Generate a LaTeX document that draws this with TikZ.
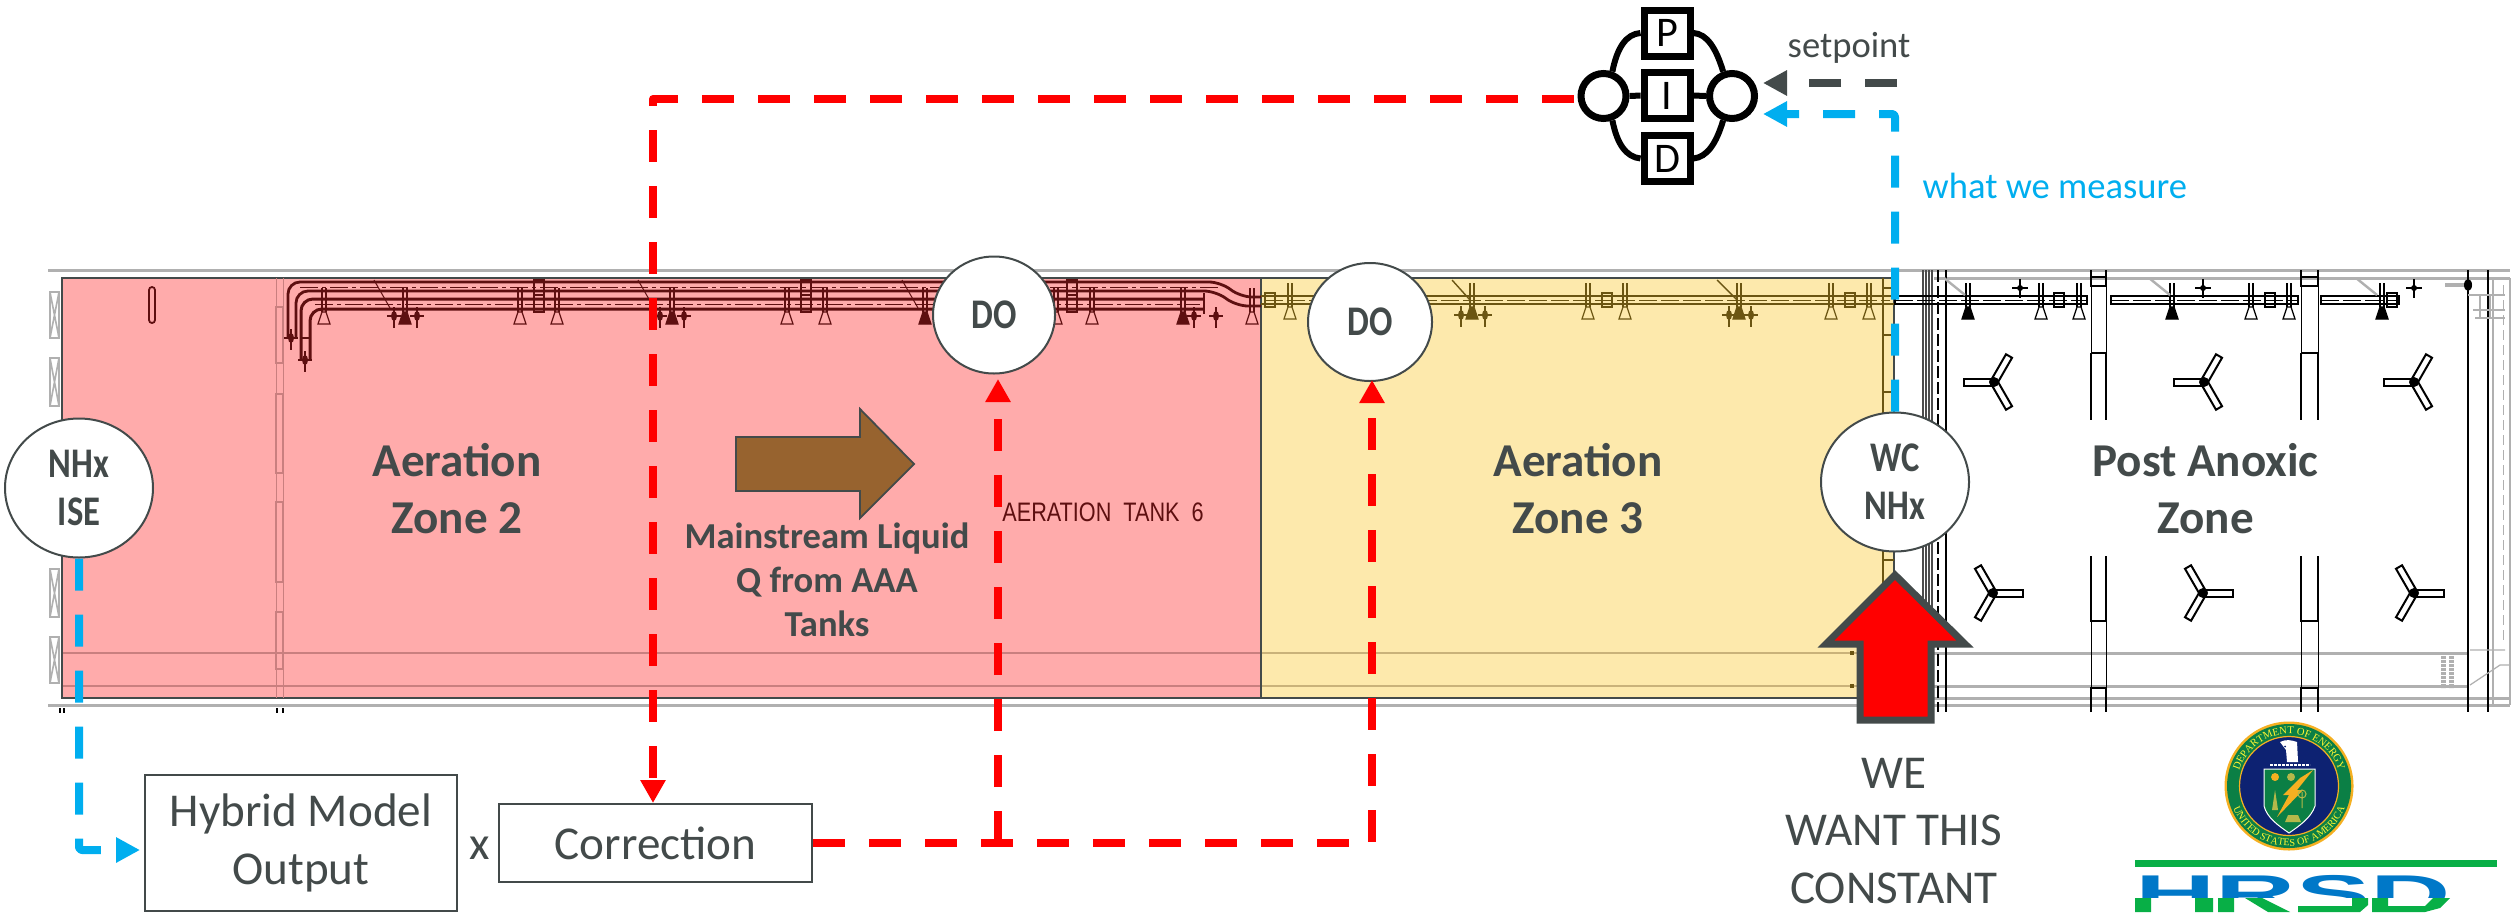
\documentclass[tikz,border=0pt]{standalone}
\usepackage{fontspec}
\setmainfont{Carlito}
\newfontfamily\cadfont{Liberation Sans}
\newfontfamily\sealfont{Liberation Serif}
\usetikzlibrary{arrows.meta,shapes.geometric,decorations.text}
\def\pxu{0.01cm}
\definecolor{txtgray}{HTML}{434A4A}
\definecolor{zonepink}{HTML}{FFABAB}
\definecolor{zoneyellow}{HTML}{FDE9AC}
\definecolor{pipea}{HTML}{5E0F10}
\definecolor{pipeb}{HTML}{6B5512}
\definecolor{redline}{HTML}{FF0000}
\definecolor{blueline}{HTML}{00AEEF}
\definecolor{brownarrow}{HTML}{97632F}
\definecolor{hsp}{HTML}{C97F7F}
\definecolor{hsy}{HTML}{C9B27A}
\definecolor{gridgray}{HTML}{B0B0B0}
\definecolor{hrsdblue}{HTML}{0078C8}
\definecolor{hrsdgreen}{HTML}{08AF46}
\definecolor{sealgold}{HTML}{F5B021}
\definecolor{sealgreen}{HTML}{0B7F45}
\definecolor{sealnavy}{HTML}{0D2272}
\definecolor{sealpale}{HTML}{B5B84A}
\tikzset{
  dashline/.style={line width=8*\pxu,dash pattern=on 32*\pxu off 24*\pxu,line join=round},
  redconn/.style={dashline,draw=redline,-{Triangle[length=23*\pxu,width=24*\pxu]}},
  blueconn/.style={dashline,draw=blueline,-{Triangle[length=24*\pxu,width=24*\pxu]}},
  grayconn/.style={dashline,draw=txtgray,-{Triangle[length=24*\pxu,width=24*\pxu]}},
  sensor/.style={ellipse,draw=txtgray,line width=2*\pxu,fill=white,inner sep=0pt,align=center,text=txtgray,
     font=\fontsize{12}{13.6}\selectfont\bfseries},
  zonetxt/.style={align=center,text=txtgray,font=\fontsize{13.4}{16.2}\selectfont\bfseries,inner sep=0pt},
  plaintxt/.style={align=center,text=txtgray,font=\fontsize{13.4}{16.4}\selectfont,inner sep=0pt},
  blocktxt/.style={draw=txtgray,line width=2.2*\pxu,fill=white,align=center,text=txtgray,
     font=\fontsize{13.4}{16.4}\selectfont,inner sep=0pt},
  smalltxt/.style={text=#1,font=\fontsize{10.4}{12}\selectfont,inner sep=0pt},
  pidbox/.style={draw=black,line width=7*\pxu,fill=white,minimum size=46*\pxu,inner sep=0pt,
     font=\fontsize{12}{12}\selectfont},
  pidcirc/.style={circle,draw=black,line width=7*\pxu,fill=white,minimum size=45*\pxu,inner sep=0pt},
  pidline/.style={draw=black,line width=6*\pxu},
  wp/.style={draw=pipea,line width=1.6*\pxu},
  wb/.style={draw=pipeb,line width=1.6*\pxu},
  wk/.style={draw=black,line width=1.6*\pxu},
  wall/.style={draw=black,line width=2.2*\pxu},
  graybar/.style={draw=gridgray,line width=3*\pxu},
}
\newcommand{\narrowtxt}[1]{\scalebox{0.82}[1]{#1}}
\newcommand{\diffuser}[4]{% x, top y, colour, fill
  \draw[draw=#3,line width=1.2*\pxu,fill=#4] (#1-2,#2) -- (#1+2,#2) -- (#1+6,#2+12) -- (#1-6,#2+12) -- cycle;
  \draw[draw=#3,line width=1.1*\pxu] (#1-2,#2) -- (#1-2,#2-24) (#1+2,#2) -- (#1+2,#2-24);}
\newcommand{\flange}[3]{% x, y, colour
  \draw[draw=#3,line width=2*\pxu] (#1-5,#2-7) rectangle (#1+5,#2+7);}
\newcommand{\valve}[3]{% x, y, colour
  \fill[#3] (#1,#2) circle[x radius=3,y radius=5];
  \draw[draw=#3,line width=1.2*\pxu] (#1-7,#2) -- (#1+7,#2) (#1,#2-9) -- (#1,#2+12);}
\begin{document}
\begin{tikzpicture}[x=0.01cm,y=-0.01cm]
\useasboundingbox (0,0) rectangle (2516,912);
\fill[white] (0,0) rectangle (2516,912);

% ---- tank outline behind zones
\draw[graybar] (48,270) -- (2510,270);
\draw[graybar] (48,705) -- (2510,705);
\draw[graybar] (1934,278) -- (2510,278) (1934,653) -- (2468,653) (1934,686) -- (2468,686) (1934,698) -- (2510,698);

% ---- zones
\fill[zonepink] (62,278) rectangle (1261,698);
\fill[zoneyellow] (1261,278) rectangle (1894,698);
\draw[draw=hsp,line width=2*\pxu] (62,653) -- (1261,653) (62,686) -- (1261,686);
\draw[draw=hsy,line width=2*\pxu] (1261,653) -- (1894,653) (1261,686) -- (1894,686);
\draw[draw=txtgray,line width=2.4*\pxu] (62,698) -- (62,278) -- (1894,278) -- (1894,698) -- cycle;
\draw[draw=txtgray,line width=2.4*\pxu] (1261,278) -- (1261,698);

% ---- left wall boxes
\foreach \a/\b in {292/338,358/406,569/617,637/683}{
  \draw[draw=gridgray,line width=1.6*\pxu] (50,\a) rectangle (59,\b) (50,\a) -- (59,\b) (59,\a) -- (50,\b);}
\foreach \a/\b in {307/363,394/473,502/582,612/669}{
  \draw[draw=hsp,line width=1.2*\pxu] (276,\a) rectangle (283,\b);}
\draw[draw=hsp,line width=1*\pxu] (276,278) -- (276,698) (283,278) -- (283,698);
\draw[draw=black,line width=1.4*\pxu] (60,708) -- (60,713) (64,708) -- (64,713) (277,708) -- (277,713) (283,708) -- (283,713);
\draw[draw=pipea,line width=1.8*\pxu,rounded corners=3*\pxu] (149,287) rectangle (155,323);

% ---- aeration pipes zone 2
\begin{scope}[rounded corners=12*\pxu]
\draw[wp,line width=2.8*\pxu] (288,338) -- (288,282) -- (1221,282) -- (1240,297) -- (1261,297);
\draw[wp,line width=2.8*\pxu] (296,338) -- (296,291) -- (1216,291) -- (1236,306) -- (1261,306);
\draw[wp,line width=3*\pxu] (301,360) -- (301,299) -- (1204,299);
\draw[wp,line width=3*\pxu] (310,360) -- (310,309) -- (1204,309);
\end{scope}
\draw[wp,line width=1*\pxu,dash pattern=on 18*\pxu off 4*\pxu on 4*\pxu off 4*\pxu] (300,287) -- (1220,287) (315,304) -- (1200,304);
\draw[wp,line width=2.4*\pxu] (1204,293) -- (1204,314);
\valve{291}{338}{pipea}\valve{305}{360}{pipea}
\draw[draw=pipea,line width=1.4*\pxu] (300,338) -- (310,338);
\foreach \x in {324,520,557,787,825,1056,1092,1252}{\diffuser{\x}{312}{pipea}{zonepink}}
\foreach \x in {405,672,925,1183}{\diffuser{\x}{312}{pipea}{pipea}}
\foreach \x in {539,806,1072}{
  \draw[draw=pipea,line width=2.4*\pxu] (\x-5,280) rectangle (\x+5,312);
  \draw[draw=pipea,line width=1.6*\pxu] (\x-5,295) -- (\x+5,295);}
\foreach \x in {394,417,660,684,1194,1216}{\valve{\x}{316}{pipea}}
\foreach \x in {382,646,910}{\draw[draw=pipea,line width=1*\pxu] (\x-8,280) -- (\x+8,308);}

% ---- aeration pipe zone 3
\draw[wb,line width=2.8*\pxu] (1261,296) -- (1894,296) (1261,304) -- (1894,304);
\draw[wb,line width=1*\pxu,dash pattern=on 18*\pxu off 4*\pxu] (1265,300) -- (1890,300);
\foreach \x in {1290,1588,1625,1831,1869}{\diffuser{\x}{307}{pipeb}{zoneyellow}}
\foreach \x in {1472,1739}{\diffuser{\x}{307}{pipeb}{pipeb}}
\foreach \x in {1270,1607,1850}{\flange{\x}{300}{pipeb}}
\foreach \x in {1461,1485,1729,1751}{\valve{\x}{315}{pipeb}}
\draw[draw=pipeb,line width=1.4*\pxu] (1452,280) -- (1470,300) (1717,280) -- (1737,300);
\draw[draw=pipeb,line width=1.6*\pxu] (1883,278) -- (1883,650);
\foreach \y in {288,335,392,450,560,620}{\draw[draw=pipeb,line width=1.2*\pxu] (1883,\y) -- (1894,\y);}
\foreach \y in {653,686}{\fill[pipeb] (1850,\y-2) rectangle (1854,\y+2);}

% ---- partition wall
\foreach \x in {1923,1926,1929,1932}{\draw[draw=black!70,line width=1.2*\pxu] (\x,270) -- (\x,650);}
\draw[draw=black,line width=1.2*\pxu,dash pattern=on 12*\pxu off 4*\pxu] (1938,270) -- (1938,712);
\draw[draw=black,line width=1.4*\pxu] (1946,270) -- (1946,712);

% ---- post anoxic plan
\foreach \a/\b in {1895/2087,2111/2298,2321/2399}{
  \draw[wk,line width=2.2*\pxu] (\a,296) rectangle (\b,304);
  \draw[draw=black,line width=1*\pxu,dash pattern=on 18*\pxu off 4*\pxu] (\a,300) -- (\b,300);}
\foreach \x in {2041,2079,2251,2289}{\diffuser{\x}{307}{black}{white}}
\foreach \x in {1968,2172,2382}{\diffuser{\x}{307}{black}{black}}
\foreach \x in {2059,2270,2392}{\flange{\x}{300}{black}}
\foreach \x in {2020,2203,2414}{
  \fill (\x,288) circle[radius=3];
  \draw[draw=black,line width=1.1*\pxu] (\x-8,288) -- (\x+8,288) (\x,279) -- (\x,298);}
\foreach \x in {1944,2149,2356}{\draw[draw=gridgray,line width=2.4*\pxu] (\x,278) -- (\x+21,295);}
\foreach \l/\r in {2091/2106,2301/2318}{
  \draw[wall] (\l,270) -- (\l,286) -- (\r,286) -- (\r,270);
  \draw[wall] (\l,277) -- (\r,277);
  \draw[draw=black,line width=1*\pxu] (\l,286) -- (\l,353) (\r,286) -- (\r,353);
  \draw[wall] (\l,353) -- (\r,353);
  \draw[wall] (\l,353) -- (\l,420) (\r,353) -- (\r,420);
  \draw[wall] (\l,556) -- (\l,621) -- (\r,621) -- (\r,556);
  \draw[draw=black,line width=1*\pxu] (\l,621) -- (\l,688) (\r,621) -- (\r,688);
  \draw[wall] (\l,712) -- (\l,688) -- (\r,688) -- (\r,712);}
\foreach \x in {1994,2204,2414}{
  \foreach \r in {180,60,-60}{
    \draw[wk,line width=2*\pxu,fill=white,shift={(\x,382)},rotate=\r] (0,-3.5) rectangle (30,3.5);}
  \fill (\x,382) circle[radius=5];}
\foreach \x in {1993,2203,2414}{
  \foreach \r in {0,120,-120}{
    \draw[wk,line width=2*\pxu,fill=white,shift={(\x,593)},rotate=\r] (0,-3.5) rectangle (30,3.5);}
  \fill (\x,593) circle[radius=5];}
\draw[draw=black,line width=2.6*\pxu] (2468,270) -- (2468,712);
\draw[draw=black,line width=1.4*\pxu] (2488,270) -- (2488,712);
\draw[draw=gridgray,line width=1.2*\pxu] (2493,278) -- (2493,705) (2510,278) -- (2510,705);
\draw[draw=gridgray,line width=1*\pxu,dash pattern=on 10*\pxu off 5*\pxu] (2503,285) -- (2503,640);
\draw[draw=gridgray,line width=4*\pxu] (2445,285) -- (2468,285);
\fill[black] (2468,285) circle[x radius=4,y radius=6];
\draw[draw=gridgray,line width=1.2*\pxu] (2468,295) -- (2505,295) (2473,310) -- (2505,310) (2480,295) -- (2480,318) (2490,295) -- (2490,318) (2475,318) -- (2505,318);
\draw[draw=gridgray,line width=1.2*\pxu] (2470,650) -- (2505,650) (2470,685) -- (2500,665) -- (2510,665);
\draw[draw=gridgray,line width=5*\pxu,dash pattern=on 2.5*\pxu off 1.5*\pxu] (2443,652) -- (2443,688);
\draw[draw=gridgray,line width=5*\pxu,dash pattern=on 2.5*\pxu off 1.5*\pxu] (2451,652) -- (2451,688);

% ---- blocks and sensors
\node[sensor,minimum width=148*\pxu,minimum height=139*\pxu] (ise) at (79,488) {\narrowtxt{NHx}\\\narrowtxt{ISE}};
\node[sensor,minimum width=122*\pxu,minimum height=117*\pxu] (do1) at (994,315) {\narrowtxt{DO}};
\node[sensor,minimum width=124*\pxu,minimum height=118*\pxu] (do2) at (1370,322) {\narrowtxt{DO}};
\node[sensor,minimum width=148*\pxu,minimum height=139*\pxu] (wc) at (1895,482) {\narrowtxt{WC}\\\narrowtxt{NHx}};
\node[blocktxt,minimum width=312*\pxu,minimum height=136*\pxu] (hybrid) at (301,843) {Hybrid Model\\Output};
\node[blocktxt,minimum width=313*\pxu,minimum height=78*\pxu] (corr) at (655.5,843) {Correction};

% ---- PID
\node[pidbox] (p) at (1667,33) {P};
\node[pidbox] (i) at (1667,95.5) {I};
\node[pidbox] (d) at (1667,158.5) {D};
\node[pidcirc] (pl) at (1603.5,96) {};
\node[pidcirc] (pr) at (1732,96) {};
\draw[pidline] (pl) -- (i);
\draw[pidline] (i) -- (pr);
\draw[pidline] (pl.70) .. controls (1617,48) and (1626,34) .. (p.west);
\draw[pidline] (pr.110) .. controls (1716,48) and (1707,34) .. (p.east);
\draw[pidline] (pl.-70) .. controls (1617,144) and (1626,157) .. (d.west);
\draw[pidline] (pr.-110) .. controls (1716,144) and (1707,157) .. (d.east);

% ---- connectors
\coordinate (redstart) at (1574,99);
\coordinate (redcorner) at (653,99);
\coordinate (corrtop) at (653,803);
\coordinate (j1) at (998,843);
\coordinate (j2) at (1372,843);
\coordinate (do1in) at (998,379);
\coordinate (do2in) at (1372,380);
\draw[redconn] (redstart) -- (redcorner) -- (corrtop);
\draw[redconn] (corr.east) -- (j2) -- (do2in);
\draw[redconn] (j1) -- (do1in);
\coordinate (setstart) at (1897,83);
\coordinate (settip) at (1763,83);
\draw[grayconn] (setstart) -- (settip);
\coordinate (meastip) at (1763,114);
\draw[blueconn,rounded corners=3*\pxu] (wc.north) -- (wc.north |- meastip) -- (meastip);
\coordinate (hybtip) at (140,850);
\draw[blueconn,rounded corners=3*\pxu] (ise.south) -- (ise.south |- hybtip) -- (hybtip);

% ---- block arrows
\draw[draw=txtgray,line width=7*\pxu,fill=redline,miter limit=10]
  (1895,575) -- (1965,644) -- (1931,644) -- (1931,720) -- (1860,720) -- (1860,644) -- (1826,644) -- cycle;
\draw[draw=txtgray,line width=1.8*\pxu,fill=brownarrow]
  (736,437) -- (860,437) -- (860,409) -- (914,464) -- (860,518) -- (860,491) -- (736,491) -- cycle;

% ---- labels
\node[zonetxt] (z2) at (457,489) {Aeration\\Zone 2};
\node[zonetxt] (z3) at (1578,489) {Aeration\\Zone 3};
\node[zonetxt] (z4) at (2205.5,489) {Post Anoxic\\Zone};
\node[zonetxt,font=\fontsize{10.4}{12.5}\selectfont\bfseries] (ml) at (827,580) {Mainstream Liquid\\Q from AAA\\Tanks};
\node[text=pipea,inner sep=0pt,font=\cadfont\fontsize{7.6}{9}\selectfont] (tank) at (1103,512) {\scalebox{0.81}[1]{AERATION\ \ TANK\ \ 6}};
\node[plaintxt] (want) at (1894,831) {WE\\WANT THIS\\CONSTANT};
\node[plaintxt] (times) at (480,848) {x};
\node[smalltxt=txtgray] (sp) at (1849,48) {setpoint};
\node[smalltxt=blueline,anchor=west] (wm) at (1922,186) {what we measure};

% ---- DOE seal
\begin{scope}[shift={(2289,786)},x=0.01cm,y=0.01cm]
\fill[sealgold] (0,0) circle[radius=64.5];
\fill[sealgreen] (0,0) circle[radius=62];
\draw[draw=sealgold,line width=1.2*\pxu,fill=sealnavy] (0,0) circle[radius=49.5];
\path[postaction={decorate},decoration={text along path,text align=center,
  text={|\sealfont\fontsize{3}{4}\selectfont\color{yellow!80!white}|DEPARTMENT OF ENERGY}}]
  (178:52) arc[start angle=178,end angle=2,radius=52];
\path[postaction={decorate},decoration={text along path,text align=center,
  text={|\sealfont\fontsize{2.9}{4}\selectfont\color{yellow!80!white}|UNITED STATES OF AMERICA}}]
  (185:60) arc[start angle=185,end angle=355,radius=60];
\draw[draw=white,line width=1*\pxu,fill=sealgreen] (-25,17) -- (26,17) -- (26,-20) .. controls (22,-32) and (10,-40) .. (0,-47) .. controls (-10,-40) and (-22,-32) .. (-25,-20) -- cycle;
\fill[sealgold] (24,16) -- (8,-4) -- (14,-4) -- (-12,-31) -- (0,-9) -- (-6,-9) -- (11,8) -- cycle;
\fill[sealgold] (-14,9) circle[radius=4];
\fill[sealpale] (2,9) circle[radius=4];
\fill[sealpale] (-17,-24) -- (-14,-4) -- (-11,-24) -- cycle;
\draw[draw=sealpale,line width=1*\pxu] (13,-22) -- (13,-6) (13,-8) circle[radius=4];
\fill[sealpale] (-4,-36) -- (12,-36) -- (9,-29) -- (-1,-29) -- cycle;
\draw[draw=white,line width=2.4*\pxu,dash pattern=on 3*\pxu off 1*\pxu] (-19,21) -- (21,21);
\fill[white] (-9,44) .. controls (-3,47) and (2,46) .. (8,44) -- (9,24) -- (-2,24) -- (-3,36) -- cycle;
\fill[sealnavy] (-4,39.5) circle[radius=1];
\end{scope}

% ---- HRSD logo
\fill[hrsdgreen] (2135,860) rectangle (2497,867);
\node[text=hrsdblue,inner sep=0pt,anchor=north west,font=\cadfont\bfseries\fontsize{14.7}{16}\selectfont] (hrsd) at (2135,875) {\scalebox{2.15}[1]{HRSD}};
\fill[white] (2130,898) rectangle (2470,912);
\fill[hrsdgreen] (2135,898) rectangle (2151,912) (2195,898) rectangle (2213,912) (2218,898) rectangle (2234,912) (2372,898) -- (2388,898) -- (2388,906) -- (2425,906) -- (2433,898) -- (2450,898) -- (2440,908) -- (2425,912) -- (2372,912) -- cycle;
\fill[hrsdgreen] (2245,898) -- (2262,898) -- (2290,912) -- (2268,912) -- cycle;
\fill[hrsdgreen] (2352,898) -- (2368,898) -- (2368,905) -- (2360,912) -- (2298,912) -- (2298,906) -- (2352,906) -- cycle;
\end{tikzpicture}
\end{document}
